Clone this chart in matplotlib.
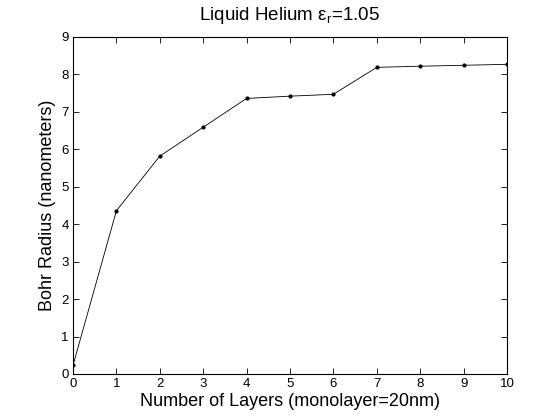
import matplotlib
matplotlib.use("Agg")
import matplotlib.pyplot as plt

# Donnees
layers = [0, 1, 2, 3, 4, 5, 6, 7, 8, 9, 10]
bohr_radius = [0.23, 4.36, 5.82, 6.59, 7.36, 7.42, 7.47, 8.19, 8.22, 8.245, 8.27]

x_ticks = list(range(0, 11))
y_ticks = list(range(0, 10))

plt.rcParams["font.family"] = ["Liberation Sans", "DejaVu Sans"]
plt.rcParams["mathtext.fontset"] = "custom"
plt.rcParams["mathtext.rm"] = "Liberation Sans"

fig = plt.figure(figsize=(5.6, 4.2), dpi=100)
ax = fig.add_axes([73 / 560, 46 / 420, 434 / 560, 337 / 420])

ax.plot(layers, bohr_radius, color="black", linewidth=0.6,
        marker=".", markersize=4)

ax.set_xlim(0, 10)
ax.set_ylim(0, 9)
ax.set_xticks(x_ticks)
ax.set_yticks(y_ticks)
ax.tick_params(direction="in", length=4, width=0.6, top=True, right=True,
               labelsize=9.5, pad=3)
for s in ax.spines.values():
    s.set_linewidth(0.8)

ax.set_xlabel("Number of Layers (monolayer=20nm)", fontsize=13, labelpad=2)
ax.set_ylabel("Bohr Radius (nanometers)", fontsize=13, labelpad=4)
ax.set_title(r"Liquid Helium ε$_\mathregular{r}$=1.05", fontsize=13.5, pad=12)

fig.savefig("out.png", dpi=100)
